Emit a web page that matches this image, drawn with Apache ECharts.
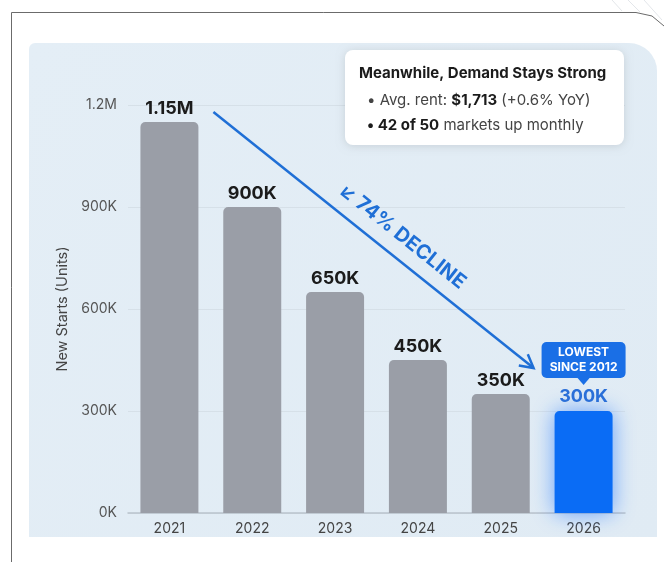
<!DOCTYPE html>
<html>
<head>
<meta charset="utf-8">
<script src="https://cdn.jsdelivr.net/npm/echarts@6/dist/echarts.min.js"></script>
<style>
  html, body { margin: 0; padding: 0; background: #fff; }
  #chart { width: 664px; height: 562px; }
</style>
</head>
<body>
<div id="chart"></div>
<script>
// data
var years = ['2021', '2022', '2023', '2024', '2025', '2026'];
var starts = [1150000, 900000, 650000, 450000, 350000, 300000];
var startLabels = ['1.15M', '900K', '650K', '450K', '350K', '300K'];
var yTicks = [0, 300000, 600000, 900000, 1200000];
var yTickLabels = ['0K', '300K', '600K', '900K', '1.2M'];

var FONT = 'Inter, "Noto Sans", sans-serif';
var GRAY = '#9a9ea7';
var BLUE = '#0a6cf5';

var myChart = echarts.init(document.getElementById('chart'), null, {renderer: 'canvas'});

var barData = [];
for (var i = 0; i < starts.length; i++) {
    var last = i === starts.length - 1;
    barData.push({
        value: starts[i],
        itemStyle: last ? {
            color: BLUE,
            shadowBlur: 22,
            shadowColor: 'rgba(20, 110, 255, 0.6)'
        } : {color: GRAY},
        label: last ? {color: '#2a6fd8', distance: 5} : {}
    });
}

var option = {
    backgroundColor: '#ffffff',
    animation: false,
    grid: {left: 128, right: 39, top: 105, bottom: 49},
    xAxis: {
        type: 'category',
        data: years,
        axisTick: {show: false},
        axisLine: {lineStyle: {color: '#b9c2cb', width: 1.5}},
        axisLabel: {color: '#444', fontSize: 14, fontFamily: FONT, margin: 9}
    },
    yAxis: {
        type: 'value',
        min: 0,
        max: 1200000,
        interval: 300000,
        name: 'New Starts (Units)',
        nameLocation: 'middle',
        nameGap: 55,
        nameTextStyle: {color: '#444', fontSize: 14.5, fontFamily: FONT},
        axisLabel: {
            color: '#555', fontSize: 14, fontFamily: FONT, margin: 11,
            formatter: function (v) {
                var k = yTicks.indexOf(v);
                return k >= 0 ? yTickLabels[k] : '';
            }
        },
        splitLine: {lineStyle: {color: '#d6e0e8', width: 1}}
    },
    series: [{
        type: 'bar',
        data: barData,
        barWidth: '70%',
        itemStyle: {borderRadius: [5, 5, 0, 0]},
        label: {
            show: true,
            position: 'top',
            distance: 4,
            color: '#1b1b1b',
            fontSize: 18,
            fontWeight: 'bold',
            fontFamily: FONT,
            formatter: function (p) { return startLabels[p.dataIndex]; }
        }
    }]
};
myChart.setOption(option);

// annotation positions derived from the data through the axes
var pFirst = myChart.convertToPixel({seriesIndex: 0}, [0, starts[0]]);
var pLast = myChart.convertToPixel({seriesIndex: 0}, [years.length - 1, starts[starts.length - 1]]);

var x1 = pFirst[0] + 44, y1 = pFirst[1] - 10;
var x2 = pLast[0] - 50, y2 = pLast[1] - 43;
var dx = x2 - x1, dy = y2 - y1;
var len = Math.sqrt(dx * dx + dy * dy);
var ux = dx / len, uy = dy / len;
var ang = Math.atan2(dy, dx);
var head = 15;
var h1 = [x2 - head * Math.cos(ang - 0.5), y2 - head * Math.sin(ang - 0.5)];
var h2 = [x2 - head * Math.cos(ang + 0.5), y2 - head * Math.sin(ang + 0.5)];
// text centre: along the line, pushed up-right
var along = len * 0.55, perp = 21;
var tx = x1 + ux * along + uy * perp;
var ty = y1 + uy * along - ux * perp;

var bx = pLast[0];
var badgeTop = pLast[1] - 69;

myChart.setOption({
    graphic: [
        // photo frame
        {
            type: 'polyline', z: 0, silent: true,
            shape: {points: [[11.5, 562], [11.5, 12.5], [636, 12.5], [652, 16], [664, 26]]},
            style: {stroke: '#6b6b6b', fill: null, lineWidth: 1}
        },
        {type: 'line', z: 0, shape: {x1: 612, y1: 0, x2: 622, y2: 11}, style: {stroke: '#e3e6ea', lineWidth: 1}},
        {type: 'line', z: 0, shape: {x1: 628, y1: 0, x2: 640, y2: 12}, style: {stroke: '#e3e6ea', lineWidth: 1}},
        {type: 'line', z: 0, shape: {x1: 644, y1: 0, x2: 662, y2: 20}, style: {stroke: '#e3e6ea', lineWidth: 1}},
        // light blue panel
        {
            type: 'rect', z: -10, silent: true,
            shape: {x: 29, y: 43, width: 628, height: 494, r: [6, 28, 0, 0]},
            style: {
                fill: new echarts.graphic.LinearGradient(0, 0, 1, 1, [
                    {offset: 0, color: '#e4eef6'},
                    {offset: 1, color: '#e0ebf4'}
                ])
            }
        },
        // info box
        {
            type: 'rect', z: 10,
            shape: {x: 345, y: 50, width: 279, height: 95, r: 8},
            style: {fill: '#ffffff', shadowBlur: 8, shadowColor: 'rgba(0,0,0,0.12)', shadowOffsetY: 1}
        },
        {
            type: 'text', z: 11, x: 359, y: 73,
            style: {
                text: 'Meanwhile, Demand Stays Strong',
                fill: '#1b1b1b', font: 'bold 15px ' + FONT, verticalAlign: 'middle'
            }
        },
        {
            type: 'text', z: 11, x: 367, y: 100,
            style: {
                text: '{n|• Avg. rent: }{b|$1,713}{n| (+0.6% YoY)}',
                verticalAlign: 'middle',
                rich: {
                    n: {fill: '#444', fontSize: 15, fontFamily: FONT},
                    b: {fill: '#1b1b1b', fontSize: 15, fontWeight: 'bold', fontFamily: FONT}
                }
            }
        },
        {
            type: 'text', z: 11, x: 367, y: 125,
            style: {
                text: '{b|• 42 of 50}{n| markets up monthly}',
                verticalAlign: 'middle',
                rich: {
                    n: {fill: '#444', fontSize: 15, fontFamily: FONT},
                    b: {fill: '#1b1b1b', fontSize: 15, fontWeight: 'bold', fontFamily: FONT}
                }
            }
        },
        // decline arrow
        {
            type: 'line', z: 12,
            shape: {x1: x1, y1: y1, x2: x2, y2: y2},
            style: {stroke: '#1f6fd6', lineWidth: 2.5}
        },
        {
            type: 'polyline', z: 12,
            shape: {points: [h1, [x2, y2], h2]},
            style: {stroke: '#1f6fd6', lineWidth: 2.5, fill: null}
        },
        {
            type: 'text', z: 12, x: tx, y: ty, rotation: -ang,
            style: {
                text: '\u2199 74% DECLINE',
                fill: '#1f6fd6', font: 'bold 20px ' + FONT,
                align: 'center', verticalAlign: 'middle'
            }
        },
        // lowest badge
        {
            type: 'rect', z: 12,
            shape: {x: bx - 42, y: badgeTop, width: 84, height: 36, r: 5},
            style: {fill: '#1a6fe6'}
        },
        {
            type: 'polygon', z: 12,
            shape: {points: [[bx - 6, badgeTop + 36], [bx + 6, badgeTop + 36], [bx, badgeTop + 43]]},
            style: {fill: '#1a6fe6'}
        },
        {
            type: 'text', z: 13, x: bx, y: badgeTop + 18,
            style: {
                text: 'LOWEST\nSINCE 2012',
                fill: '#ffffff', font: 'bold 12px ' + FONT, lineHeight: 15,
                align: 'center', verticalAlign: 'middle'
            }
        }
    ]
});
</script>
</body>
</html>
